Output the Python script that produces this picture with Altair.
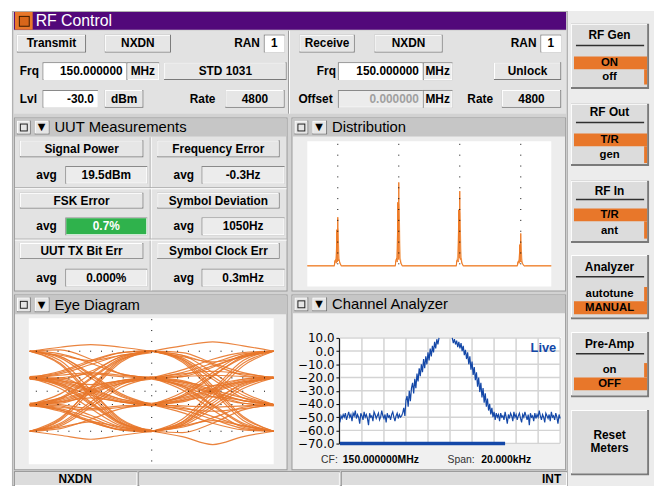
import altair as alt
import pandas as pd

# ===================== values =====================
# Channel Analyzer: offset from CF (kHz) and level (dBm); None = above the top of the screen
spec_freq_khz = [round(-10 + 0.1 * i, 1) for i in range(201)]
spec_floor_left = [-54, -49, -51, -48, -50, -47, -52, -49, -46, -50,
                   -48, -53, -47, -49, -45, -51, -48, -50, -55, -47,
                   -49, -52, -46, -50, -48, -51, -56, -47, -50, -49,
                   -53, -46, -48, -51, -49, -47, -52, -50, -45, -49,
                   -51, -48, -54, -47, -50, -49, -52, -48, -46, -50,
                   -53, -49, -47, -51, -48, -50, -49]
spec_rise = [-47, -43, -49, -37, -34, -42, -30, -38, -28, -24, -32, -21, -28, -17, -23, -13, -19,
             -10, -16, -6, -13, -4, -10, -1, -7, 2, -4, 4, -1, 7, 2, 9, 5, 10]
spec_top = [None] * 11
spec_fall = [10, 6, 9, 5, 8, 3, 7, 2, 6, 0, 4, -3, 1, -6, -1, -10, -4, -14, -8, -18, -12, -22,
             -16, -27, -20, -31, -24, -35, -28, -39, -32, -42, -36, -45, -40, -48, -43, -50,
             -46, -52, -47, -50]
spec_floor_right = [-48, -53, -47, -50, -49, -52, -46, -50, -55, -48,
                    -51, -47, -49, -53, -46, -50, -48, -52, -49, -47,
                    -51, -54, -48, -50, -46, -49, -52, -48, -56, -47,
                    -50, -49, -53, -47, -51, -48, -50, -45, -49, -52,
                    -48, -50, -54, -47, -49, -51, -48, -53, -46, -50,
                    -49, -52, -47, -50, -55, -48, -51]
spec_level_db = spec_floor_left + spec_rise + spec_top + spec_fall + spec_floor_right
spec_db_ticks = [-70, -60, -50, -40, -30, -20, -10, 0, 10]
spec_grid_khz = [-10, -8, -6, -4, -2, 0, 2, 4, 6, 8, 10]
spec_sweep_khz = [-10, 5]

# Distribution: frequency deviation (Hz) and relative count (four symbol peaks)
dist_dev_hz = [-1400,
               -1105, -1090, -1085, -1075, -1068, -1062, -1056, -1050, -1044, -1038, -1032, -1025, -1010, -995,
               -405, -390, -385, -375, -368, -362, -356, -350, -344, -338, -332, -325, -310, -295,
               295, 310, 315, 325, 332, 338, 344, 350, 356, 362, 368, 375, 390, 405,
               995, 1010, 1015, 1025, 1032, 1038, 1044, 1050, 1056, 1062, 1068, 1075, 1090, 1105,
               1400]
dist_count_now = [0,
                  0, 0, 4, 5, 2, 29, 3, 39, 4, 5, 4, 2, 0, 0,
                  0, 0, 4, 6, 3, 51, 5, 67, 6, 5, 4, 2, 0, 0,
                  0, 0, 4, 5, 3, 45, 6, 60, 5, 6, 4, 2, 0, 0,
                  0, 0, 3, 4, 2, 17, 3, 26, 4, 3, 2, 1, 0, 0,
                  0]
dist_count_hold = [0,
                   0, 0, 2, 4, 8, 16, 24, 30, 22, 10, 4, 2, 0, 0,
                   0, 0, 3, 6, 14, 30, 44, 50, 40, 18, 6, 2, 0, 0,
                   0, 0, 3, 7, 18, 36, 45, 42, 30, 14, 6, 2, 0, 0,
                   0, 0, 1, 3, 6, 12, 17, 19, 13, 6, 3, 1, 0, 0,
                   0]
dist_symbol_hz = [-1050, -350, 350, 1050]

# Eye diagram: symbol period index, and level samples at 0, 1/4, 1/2, 3/4, 1 of the period
eye_period = [0] * 28 + [1] * 26 + [0] * 14 + [1] * 14 + [0] * 10 + [1] * 10
eye_traces = [
    # first symbol period
    [3, 3.3, 3.5, 3.3, 3], [3, 2.7, 2.3, 2.7, 3], [3, 2.8, 2.1, 1.3, 1], [3, 3.1, 2.4, 1.3, 1],
    [3, 2.5, 1.0, -0.4, -1], [3, 2.3, 0.1, -2.1, -3], [1, 1.3, 2.0, 2.7, 3], [1, 0.9, 1.5, 2.6, 3],
    [1, 1.2, 1.4, 1.2, 1], [1, 0.8, 0.5, 0.8, 1], [1, 0.7, 0, -0.7, -1], [1, 0.9, 0.2, -0.6, -1],
    [1, 0.4, -1.0, -2.5, -3], [1, 0.6, -0.8, -2.4, -3], [-1, -0.5, 1.0, 2.5, 3], [-1, -0.7, 0, 0.7, 1],
    [-1, -0.9, -0.2, 0.6, 1], [-1, -1.2, -1.4, -1.2, -1], [-1, -0.8, -0.5, -0.8, -1],
    [-1, -1.3, -2.0, -2.8, -3], [-1, -1.1, -1.8, -2.7, -3], [-3, -2.2, 0, 2.2, 3],
    [-3, -2.5, -1.0, 0.5, 1], [-3, -2.8, -2.1, -1.3, -1], [-3, -3.3, -3.6, -3.3, -3],
    [-3, -2.7, -2.3, -2.7, -3], [1, 1.0, -0.1, -2.2, -3], [-1, -1.4, -2.3, -2.9, -3],
    # second symbol period
    [3, 3.4, 3.7, 3.4, 3], [3, 2.6, 2.2, 2.6, 3], [3, 2.7, 2.0, 1.2, 1], [3, 2.4, 0.9, -0.5, -1],
    [3, 2.2, 0, -2.2, -3], [1, 1.4, 2.1, 2.8, 3], [1, 1.1, 1.8, 2.7, 3], [1, 1.3, 1.5, 1.3, 1],
    [1, 0.7, 0.4, 0.7, 1], [1, 0.6, -0.1, -0.7, -1], [1, 0.8, 0.1, -0.5, -1], [1, 0.3, -1.1, -2.5, -3],
    [-1, -0.4, 1.1, 2.6, 3], [-1, -0.6, 0.1, 0.8, 1], [-1, -0.8, -0.1, 0.6, 1],
    [-1, -1.3, -1.5, -1.3, -1], [-1, -0.7, -0.4, -0.7, -1], [-1, -1.4, -2.1, -2.8, -3],
    [-3, -2.1, 0.1, 2.3, 3], [-3, -2.4, -0.9, 0.6, 1], [-3, -2.3, -0.7, 0.5, 1],
    [-3, -2.7, -2.0, -1.2, -1], [-3, -3.4, -4.0, -3.4, -3], [-3, -2.6, -2.2, -2.6, -3],
    [-3, -3.1, -2.4, -1.4, -1], [3, 2.9, 2.1, 1.4, 1],
    # extra traces, first period
    [1.1, 0.8, 0.1, -0.6, -0.9], [0.9, 0.6, -0.1, -0.8, -1.1], [-0.9, -0.6, 0.1, 0.8, 1.1],
    [-1.1, -0.8, -0.1, 0.6, 0.9], [1, 0.5, -0.9, -2.4, -2.9], [-1, -0.6, 0.9, 2.4, 2.9],
    [1.1, 1.4, 2.2, 2.9, 3.05], [-1.1, -1.4, -2.2, -2.9, -3.05], [3, 2.6, 1.2, -0.3, -1],
    [-3, -2.6, -1.2, 0.3, 1], [0.9, 1.0, 1.3, 1.1, 1], [-0.9, -1.0, -1.3, -1.1, -1],
    [3, 2.1, -0.2, -2.3, -3], [-3, -2.0, 0.2, 2.3, 3],
    # extra traces, second period
    [1.1, 0.7, 0, -0.7, -1], [0.9, 0.5, -0.2, -0.9, -1.1], [-0.9, -0.5, 0.2, 0.9, 1.1],
    [-1.1, -0.7, 0, 0.7, 1], [1, 0.4, -1.0, -2.4, -3], [-1, -0.3, 1.2, 2.5, 3],
    [1, 1.2, 1.9, 2.6, 3], [-1, -1.2, -1.9, -2.6, -3], [3, 2.5, 1.1, -0.3, -1],
    [-3, -2.5, -1.1, 0.4, 1], [1, 1.1, 1.2, 1.1, 1], [-1, -1.1, -1.2, -1.1, -1],
    [3, 2.3, 0.2, -2.0, -3], [-3, -2.3, -0.1, 2.1, 3],
    # more crossing traces, first period
    [3, 2.6, 1.3, -0.2, -1], [-3, -2.4, -0.8, 0.6, 1], [1, 1.5, 2.3, 2.9, 3],
    [-1, -1.5, -2.3, -2.9, -3], [3, 2.0, -0.4, -2.4, -3], [-3, -2.1, 0.3, 2.4, 3],
    [1, 0.5, -0.3, -0.8, -1], [-1, -0.5, 0.3, 0.8, 1], [1, 0.2, -1.3, -2.6, -3],
    [-1, -0.2, 1.3, 2.6, 3],
    # more crossing traces, second period
    [3, 2.7, 1.4, -0.1, -1], [-3, -2.6, -1.3, 0.2, 1], [1, 1.6, 2.4, 2.9, 3],
    [-1, -1.6, -2.4, -2.9, -3], [3, 2.4, 0.4, -1.9, -3], [-3, -2.5, -0.4, 1.9, 3],
    [1, 0.4, -0.4, -0.9, -1], [-1, -0.4, 0.4, 0.9, 1], [1, 0.1, -1.4, -2.7, -3],
    [-1, -0.1, 1.4, 2.7, 3],
]
eye_phase = [0, 0.25, 0.5, 0.75, 1]
eye_levels = [3, 1, 0, -1, -3]

# Measurement panel and side keys
uut_names = ["Signal Power", "Frequency Error", "FSK Error", "Symbol Deviation",
             "UUT TX Bit Err", "Symbol Clock Err"]
uut_avgs = ["19.5dBm", "-0.3Hz", "0.7%", "1050Hz", "0.000%", "0.3mHz"]
uut_pass = [False, False, True, False, False, False]
side_titles = ["RF Gen", "RF Out", "RF In", "Analyzer", "Pre-Amp"]
side_opts = [("ON", "off"), ("T/R", "gen"), ("T/R", "ant"), ("autotune", "MANUAL"), ("on", "OFF")]
side_sel = [0, 0, 0, 1, 1]

# ===================== drawing helpers (screen layout) =====================
W, H = 654, 481
O = 8  # page margin


def PX():
    return alt.Scale(domain=[O, O + W], range=[0, W], nice=False, zero=False)


def PY():
    return alt.Scale(domain=[O, O + H], range=[0, H], nice=False, zero=False)


PURPLE = "#52087a"
ORANGE = "#e8772a"
FACE = "#e6e6e6"
HEADER = "#c6c6c6"
BLUE = "#1448a8"

R, L, T = [], [], []


def rect(x1, y1, x2, y2, fill):
    R.append(dict(x1=x1, y1=y1, x2=x2, y2=y2, fill=fill))


def rule(x1, y1, x2, y2, color, w=1.0):
    L.append(dict(x1=x1, y1=y1, x2=x2, y2=y2, color=color, w=w))


def txt(x, y, s, align="center", weight="bold", size=12, color="#000000", font="Liberation Sans"):
    T.append(dict(x=x, y=y, s=s, align=align, weight=weight, size=size, color=color, font=font))


def raised(x1, y1, x2, y2, face=FACE, sh=1):
    rect(x1, y1, x2, y2, "#7a7a7a")
    rect(x1, y1, x2 - sh, y2 - sh, "#ffffff")
    rect(x1 + 1, y1 + 1, x2 - sh, y2 - sh, face)


def sunken(x1, y1, x2, y2, face):
    rect(x1, y1, x2, y2, "#8a8a8a")
    rect(x1 + 1, y1 + 1, x2, y2, "#ffffff")
    rect(x1 + 1, y1 + 1, x2 - 1, y2 - 1, face)


def button(x1, y1, x2, y2, label):
    raised(x1, y1, x2, y2)
    txt((x1 + x2) / 2, (y1 + y2) / 2, label)


def panel(x0, y0, x1, y1, body):
    rect(x0, y0, x1, y1, "#9a9a9a")
    rect(x0 + 1, y0 + 1, x1 - 1, y1 - 1, body)


def header(x0, x1, ytop, ybot, title):
    rect(x0, ytop, x1, ybot, HEADER)
    cy = (ytop + ybot) / 2
    raised(x0 + 2, ytop + 2, x0 + 16, ybot - 2)
    rect(x0 + 5, cy - 4, x0 + 13, cy + 4, "#202020")
    rect(x0 + 6, cy - 3, x0 + 12, cy + 3, FACE)
    raised(x0 + 20, ytop + 2, x0 + 35, ybot - 2)
    txt(x0 + 27, cy, "\u25BC", size=10, font="DejaVu Sans")
    txt(x0 + 40, cy, title, align="left", weight="normal", size=15)


# ---- window frame ----
rect(12, 8, 575, 489, "#b0b0b0")
rect(13, 9, 574, 488, "#d2d2d2")
rect(575, 8, 662, 489, "#ececec")

# ---- RF Control ----
rect(14, 9, 573, 27, PURPLE)
rect(15, 9, 33, 27, ORANGE)
rect(19, 13, 30, 24, "#3a1a00")
rect(20, 14, 29, 23, "#d8661a")
txt(36, 18, "RF Control", align="left", weight="normal", size=16, color="#ffffff")
rect(14, 28, 573, 112, "#e2e2e2")
rule(292, 28, 292, 112, "#9a9a9a")
rule(293, 28, 293, 112, "#ffffff")

button(17, 32, 87, 50, "Transmit")
button(106, 32, 173, 50, "NXDN")
txt(263, 41, "RAN", align="right")
sunken(267, 32, 288, 50, "#ffffff")
txt(277.5, 41, "1")
button(303, 32, 359, 50, "Receive")
button(379, 32, 448, 50, "NXDN")
txt(543, 41, "RAN", align="right")
sunken(547, 32, 568, 50, "#ffffff")
txt(557.5, 41, "1")

txt(20, 69, "Frq", align="left")
sunken(43, 60, 128, 78, "#ffffff")
txt(124, 69, "150.000000", align="right")
sunken(128, 60, 161, 78, "#ececec")
txt(144.5, 69, "MHz")
button(166, 60, 290, 78, "STD 1031")
txt(340, 69, "Frq", align="right")
sunken(342, 60, 428, 78, "#ffffff")
txt(424, 69, "150.000000", align="right")
sunken(428, 60, 458, 78, "#ececec")
txt(443, 69, "MHz")
button(500, 60, 568, 78, "Unlock")

txt(20, 97, "Lvl", align="left")
sunken(43, 88, 99, 106, "#ffffff")
txt(95, 97, "-30.0", align="right")
button(106, 88, 145, 106, "dBm")
txt(205, 97, "Rate")
button(228, 88, 288, 106, "4800")
txt(302, 97, "Offset", align="left")
sunken(342, 88, 428, 106, "#ececec")
txt(424, 97, "0.000000", align="right", color="#a0a0a0")
sunken(428, 88, 458, 106, "#ececec")
txt(443, 97, "MHz")
txt(486, 97, "Rate")
button(508, 88, 568, 106, "4800")

# ---- UUT Measurements ----
panel(14, 116, 291, 292, "#e3e3e3")
header(15, 290, 117, 135, "UUT Measurements")
rule(152, 136, 152, 291, "#a8a8a8")
rule(153, 136, 153, 291, "#ffffff")
for yy in (187, 239):
    rule(15, yy, 290, yy, "#a8a8a8")
    rule(15, yy + 1, 290, yy + 1, "#ffffff")
btn_cols = [(20, 145), (159, 283)]
avg_x = [47, 186]
box_cols = [(66, 149), (204, 288)]
btn_rows = [(139, 156), (192, 208), (243, 259)]
box_rows = [(165, 183), (217, 235), (269, 287)]
for i, name in enumerate(uut_names):
    r, c = divmod(i, 2)
    button(btn_cols[c][0], btn_rows[r][0], btn_cols[c][1], btn_rows[r][1], name)
    by0, by1 = box_rows[r]
    txt(avg_x[c], (by0 + by1) / 2, "avg")
    sunken(box_cols[c][0], by0, box_cols[c][1], by1, "#2fb24c" if uut_pass[i] else "#ececec")
    txt((box_cols[c][0] + box_cols[c][1]) / 2, (by0 + by1) / 2, uut_avgs[i],
        color="#ffffff" if uut_pass[i] else "#000000")

# ---- Distribution ----
panel(295, 116, 573, 292, "#ededed")
header(296, 572, 117, 135, "Distribution")
rect(311, 140, 558, 287, "#ffffff")

# ---- Eye Diagram ----
panel(14, 295, 291, 473, "#ededed")
header(15, 290, 296, 315, "Eye Diagram")
rect(29, 319, 277, 467, "#ffffff")

# ---- Channel Analyzer ----
panel(295, 295, 573, 473, "#f0f0f0")
header(296, 572, 296, 314, "Channel Analyzer")
rect(343, 338, 568, 447, "#ffffff")
txt(550, 349, "Live", size=13, color=BLUE)
txt(325, 463, "CF:", align="left", weight="normal", size=10.5, color="#333333")
txt(347, 463, "150.000000MHz", align="left", size=10.5)
txt(453, 463, "Span:", align="left", weight="normal", size=10.5, color="#333333")
txt(487, 463, "20.000kHz", align="left", size=10.5)

# ---- status bar ----
sunken(14, 474, 139, 489, "#dcdcdc")
sunken(140, 474, 344, 489, "#dcdcdc")
sunken(345, 474, 574, 489, "#dcdcdc")
txt(76, 482, "NXDN")
txt(568, 482, "INT", align="right")

# ---- side keys ----
side_geom = [(21, 87, 32, 43, 60.5, 74.5), (102, 165, 110, 121, 138.5, 154),
             (180, 243, 190, 199, 214.5, 230.5), (255, 320, 267, 277, 294.5, 308.5),
             (333, 399, 345, 355, 371.5, 385.5)]
for k, title in enumerate(side_titles):
    top, bot, ty, ly, r1, r2 = side_geom[k]
    raised(578, top, 657, bot, face="#dcdcdc", sh=2)
    txt(617, ty, title)
    rule(583, ly, 652, ly, "#303030", 1.5)
    rows = (r1, r2)
    sel = rows[side_sel[k]]
    rect(581, sel - 6.5, 655, sel + 6.5, ORANGE)
    if side_sel[k] == 0:
        rect(652, sel + 6.5, 655, r2 + 8, ORANGE)
    else:
        rect(652, r1 - 7, 655, sel - 6.5, ORANGE)
    txt(617, r1, side_opts[k][0], size=11.5)
    txt(617, r2, side_opts[k][1], size=11.5)
raised(578, 412, 657, 478, face="#dcdcdc", sh=2)
txt(617, 437, "Reset")
txt(617, 451, "Meters")

# ===================== charts =====================
rect_df = pd.DataFrame(R)
rule_df = pd.DataFrame(L)
text_df = pd.DataFrame(T)

ui_rects = alt.Chart(rect_df).mark_rect(strokeWidth=0).encode(
    x=alt.X("x1:Q", scale=PX(), axis=None), x2=alt.X2("x2"),
    y=alt.Y("y1:Q", scale=PY(), axis=None), y2=alt.Y2("y2"),
    fill=alt.Fill("fill:N", scale=None),
)
ui_rules = alt.Chart(rule_df).mark_rule().encode(
    x=alt.X("x1:Q", scale=PX(), axis=None), x2=alt.X2("x2"),
    y=alt.Y("y1:Q", scale=PY(), axis=None), y2=alt.Y2("y2"),
    color=alt.Color("color:N", scale=None),
    strokeWidth=alt.StrokeWidth("w:Q", scale=None),
)

text_layers = []
for (al, wt, fnt), grp in text_df.groupby(["align", "weight", "font"]):
    text_layers.append(
        alt.Chart(grp.reset_index(drop=True)).mark_text(
            align=al, baseline="middle", fontWeight=wt, font=fnt
        ).encode(
            x=alt.X("x:Q", scale=PX(), axis=None),
            y=alt.Y("y:Q", scale=PY(), axis=None),
            text="s:N",
            size=alt.Size("size:Q", scale=None),
            color=alt.Color("color:N", scale=None),
        )
    )

# --- spectrum ---
spec_x = lambda: alt.Scale(domain=[-10, 10], range=[344 - O, 567 - O], nice=False, zero=False)
spec_y = lambda: alt.Scale(domain=[-70, 10], range=[446 - O, 339 - O], nice=False, zero=False)
spec_df = pd.DataFrame({"f": spec_freq_khz, "db": spec_level_db})
spec_df["seg"] = spec_df["db"].isna().cumsum()
spec_df = spec_df.dropna()

gv_df = pd.DataFrame({"f": spec_grid_khz, "lo": -70, "hi": 10})
gh_df = pd.DataFrame({"db": spec_db_ticks, "lo": -10, "hi": 10})
grid_v = alt.Chart(gv_df).mark_rule(color="#d4d4d4", strokeWidth=1.5).encode(
    x=alt.X("f:Q", scale=spec_x(), axis=None),
    y=alt.Y("lo:Q", scale=spec_y(), axis=None), y2=alt.Y2("hi"),
)
grid_h = alt.Chart(gh_df).mark_rule(color="#d4d4d4", strokeWidth=1.5).encode(
    x=alt.X("lo:Q", scale=spec_x(), axis=None), x2=alt.X2("hi"),
    y=alt.Y("db:Q", scale=spec_y(), axis=alt.Axis(
        orient="left", offset=-(343 - O), values=spec_db_ticks, format=".1f", title=None,
        labelFont="DejaVu Sans", labelFontSize=12, labelColor="#000000", labelPadding=2,
        tickSize=3, tickColor="#000000", domainColor="#000000", grid=False, zindex=5)),
)
sweep_df = pd.DataFrame({"a": [spec_sweep_khz[0]], "b": [spec_sweep_khz[1]], "db": [-70]})
sweep = alt.Chart(sweep_df).mark_rule(color=BLUE, strokeWidth=3.5).encode(
    x=alt.X("a:Q", scale=spec_x(), axis=None), x2=alt.X2("b"),
    y=alt.Y("db:Q", scale=spec_y(), axis=None),
)
spec_line = alt.Chart(spec_df).mark_line(color=BLUE, strokeWidth=1.2).encode(
    x=alt.X("f:Q", scale=spec_x(), axis=None),
    y=alt.Y("db:Q", scale=spec_y(), axis=None),
    detail="seg:N",
)

# --- distribution ---
dist_x = lambda: alt.Scale(domain=[-1400, 1400], range=[311 - O, 558 - O], nice=False, zero=False)
dist_y = lambda: alt.Scale(domain=[0, 100], range=[266 - O, 140 - O], nice=False, zero=False)
dist_df = pd.DataFrame({"hz": dist_dev_hz, "now": dist_count_now, "hold": dist_count_hold})
dist_hold = alt.Chart(dist_df).mark_line(color="#f5b27a", strokeWidth=1.2).encode(
    x=alt.X("hz:Q", scale=dist_x(), axis=None),
    y=alt.Y("hold:Q", scale=dist_y(), axis=None),
)
dist_now = alt.Chart(dist_df).mark_line(color="#ee7a26", strokeWidth=1.0).encode(
    x=alt.X("hz:Q", scale=dist_x(), axis=None),
    y=alt.Y("now:Q", scale=dist_y(), axis=None),
)
dsym_df = pd.DataFrame({"hz": dist_symbol_hz, "lo": 0, "hi": 98})
dist_dots = alt.Chart(dsym_df).mark_rule(color="#000000", strokeWidth=1, strokeDash=[1, 10]).encode(
    x=alt.X("hz:Q", scale=dist_x(), axis=None),
    y=alt.Y("hi:Q", scale=dist_y(), axis=None), y2=alt.Y2("lo"),
)

# --- eye diagram ---
eye_x = lambda: alt.Scale(domain=[0, 2], range=[30 - O, 277 - O], nice=False, zero=False)
eye_y = lambda: alt.Scale(domain=[-5.48, 5.48], range=[467 - O, 319 - O], nice=False, zero=False)
eye_rows = []
for k, (p, vals) in enumerate(zip(eye_period, eye_traces)):
    for ph, v in zip(eye_phase, vals):
        eye_rows.append({"t": p + ph, "lvl": v, "seg": k})
eye_df = pd.DataFrame(eye_rows)
eye_lines = alt.Chart(eye_df).mark_line(
    interpolate="monotone", color=ORANGE, strokeWidth=1.2, opacity=0.9
).encode(
    x=alt.X("t:Q", scale=eye_x(), axis=None),
    y=alt.Y("lvl:Q", scale=eye_y(), axis=None),
    detail="seg:N",
)
eh_df = pd.DataFrame({"lvl": eye_levels, "a": 0.05, "b": 1.95})
eye_hdots = alt.Chart(eh_df).mark_rule(color="#000000", strokeWidth=1, strokeDash=[1, 10]).encode(
    x=alt.X("a:Q", scale=eye_x(), axis=None), x2=alt.X2("b"),
    y=alt.Y("lvl:Q", scale=eye_y(), axis=None),
)
ev_df = pd.DataFrame({"t": [1], "lo": [-5.4], "hi": [5.4]})
eye_vdots = alt.Chart(ev_df).mark_rule(color="#000000", strokeWidth=1, strokeDash=[1, 10]).encode(
    x=alt.X("t:Q", scale=eye_x(), axis=None),
    y=alt.Y("hi:Q", scale=eye_y(), axis=None), y2=alt.Y2("lo"),
)

chart = alt.layer(
    ui_rects, ui_rules,
    grid_v, grid_h, sweep, spec_line,
    dist_hold, dist_now, dist_dots,
    eye_lines, eye_hdots, eye_vdots,
    *text_layers,
).resolve_scale(
    x="independent", y="independent"
).properties(
    width=W, height=H, padding=0, background="#ffffff",
    autosize=alt.AutoSizeParams(type="none"),
).configure_view(stroke=None)

chart.save("out.html", embed_options={"renderer": "svg", "actions": False})
